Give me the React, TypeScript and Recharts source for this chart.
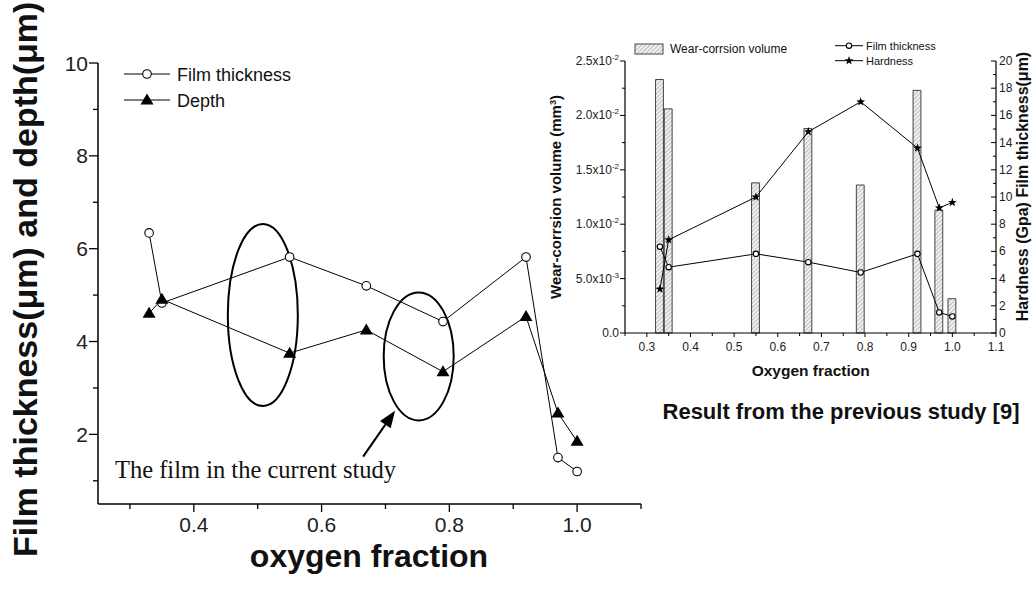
import React from "react";
import {
  ComposedChart,
  LineChart,
  Line,
  Bar,
  XAxis,
  YAxis,
  Legend,
  ReferenceDot,
  ReferenceLine,
} from "recharts";

// current study (main plot)
const oxygenFraction = [0.33, 0.35, 0.55, 0.67, 0.79, 0.92, 0.97, 1.0];
const filmThickness = [6.34, 4.83, 5.82, 5.2, 4.43, 5.82, 1.5, 1.2];
const depth = [4.61, 4.91, 3.75, 4.25, 3.35, 4.54, 2.46, 1.85];

// previous study [9] (inset)
const prevFilmThickness = [6.35, 4.84, 5.82, 5.21, 4.45, 5.82, 1.51, 1.22];
const hardness = [3.23, 6.85, 10.0, 14.8, 17.0, 13.6, 9.2, 9.6];
const wearVolume = [0.0233, 0.0206, 0.0138, 0.0188, 0.0136, 0.0223, 0.0113, 0.00315];

const mainXTicks = [0.3, 0.4, 0.5, 0.6, 0.7, 0.8, 0.9, 1.0, 1.1];
const mainYTicks = [1, 2, 3, 4, 5, 6, 7, 8, 9, 10];
const insetXTicks = [0.25, 0.3, 0.35, 0.4, 0.45, 0.5, 0.55, 0.6, 0.65, 0.7, 0.75, 0.8, 0.85, 0.9, 0.95, 1.0, 1.05, 1.1];
const insetLeftTicks = [0, 0.0025, 0.005, 0.0075, 0.01, 0.0125, 0.015, 0.0175, 0.02, 0.0225, 0.025];
const insetRightTicks = [0, 1, 2, 3, 4, 5, 6, 7, 8, 9, 10, 11, 12, 13, 14, 15, 16, 17, 18, 19, 20];

// annotation ellipses and arrow, in data units (main plot)
const ellipses = [
  { x: 0.508, y: 4.57, rx: 35, ry: 91 },
  { x: 0.752, y: 3.68, rx: 35, ry: 64 },
];
const arrowFrom = { x: 0.665, y: 1.52 };
const arrowTo = { x: 0.715, y: 2.51 };

const SANS = "'Liberation Sans', Arial, sans-serif";
const SERIF = "'Liberation Serif', 'Times New Roman', serif";

const mainData = oxygenFraction.map((x, i) => ({ x, film: filmThickness[i], depth: depth[i] }));
const insetData = oxygenFraction.map((x, i) => ({
  x,
  wear: wearVolume[i],
  film: prevFilmThickness[i],
  hardness: hardness[i],
}));

const OpenCircle = ({ cx, cy, r = 4.3 }: any) => (
  <circle cx={cx} cy={cy} r={r} fill="#fff" stroke="#000" strokeWidth={1.1} />
);
const Triangle = ({ cx, cy }: any) => (
  <polygon points={`${cx},${cy - 6.5} ${cx - 6.5},${cy + 4.5} ${cx + 6.5},${cy + 4.5}`} fill="#000" />
);
const starPoints = (cx: number, cy: number, R: number, r: number) => {
  const pts: string[] = [];
  for (let k = 0; k < 10; k++) {
    const rad = k % 2 === 0 ? R : r;
    const a = -Math.PI / 2 + (k * Math.PI) / 5;
    pts.push(`${cx + rad * Math.cos(a)},${cy + rad * Math.sin(a)}`);
  }
  return pts.join(" ");
};
const Star = ({ cx, cy }: any) => <polygon points={starPoints(cx, cy, 4.6, 1.9)} fill="#000" />;

// main axis ticks
const MainXTick = ({ x, y, payload }: any) => {
  const v = payload.value;
  const major = Math.round(v * 10) % 2 === 0;
  return (
    <g>
      <line x1={x} y1={y} x2={x} y2={y + (major ? 8 : 5)} stroke="#000" strokeWidth={1.3} />
      {major && (
        <text x={x} y={y + 28} textAnchor="middle" fontSize={21} fontFamily={SANS} fill="#222">
          {v.toFixed(1)}
        </text>
      )}
    </g>
  );
};
const MainYTick = ({ x, y, payload }: any) => {
  const v = payload.value;
  const major = v % 2 === 0;
  return (
    <g>
      <line x1={x} y1={y} x2={x - (major ? 9 : 5)} y2={y} stroke="#000" strokeWidth={1.3} />
      {major && (
        <text x={x - 10} y={y + 7.5} textAnchor="end" fontSize={21} fontFamily={SANS} fill="#222">
          {v}
        </text>
      )}
    </g>
  );
};

// inset axis ticks
const InsetXTick = ({ x, y, payload }: any) => {
  const v = payload.value;
  const major = Math.round(v * 100) % 10 === 0;
  return (
    <g>
      <line x1={x} y1={y} x2={x} y2={y + (major ? 4 : 3)} stroke="#000" strokeWidth={1} />
      {major && (
        <text x={x} y={y + 18} textAnchor="middle" fontSize={12} fontFamily={SANS} fill="#222">
          {v.toFixed(1)}
        </text>
      )}
    </g>
  );
};
const InsetLeftTick = ({ x, y, payload }: any) => {
  const v = payload.value;
  const major = Math.round(v * 10000) % 50 === 0;
  let label: any = null;
  if (major) {
    if (v === 0) {
      label = "0.0";
    } else {
      const exp = Math.floor(Math.log10(v) + 1e-9);
      const mant = (v / Math.pow(10, exp)).toFixed(1);
      label = (
        <>
          <tspan>{mant}x10</tspan>
          <tspan dy={-5} fontSize={8}>{exp}</tspan>
        </>
      );
    }
  }
  return (
    <g>
      <line x1={x} y1={y} x2={x - (major ? 5 : 3)} y2={y} stroke="#000" strokeWidth={1} />
      {label && (
        <text x={x - 6} y={y + 4} textAnchor="end" fontSize={12} fontFamily={SANS} fill="#222">
          {label}
        </text>
      )}
    </g>
  );
};
const InsetRightTick = ({ x, y, payload }: any) => {
  const v = payload.value;
  const major = v % 2 === 0;
  return (
    <g>
      <line x1={x} y1={y} x2={x - (major ? 5 : 3)} y2={y} stroke="#000" strokeWidth={1} />
      {major && (
        <text x={x + 3} y={y + 4} textAnchor="start" fontSize={12} fontFamily={SANS} fill="#222">
          {v}
        </text>
      )}
    </g>
  );
};

const MainLegend = () => (
  <svg width={330} height={120}>
    <line x1={124} y1={74} x2={170} y2={74} stroke="#000" strokeWidth={1} />
    <OpenCircle cx={147} cy={74} />
    <text x={177} y={80.5} fontSize={18} fontFamily={SANS} fill="#111">
      Film thickness
    </text>
    <line x1={124} y1={100} x2={170} y2={100} stroke="#000" strokeWidth={1} />
    <Triangle cx={147} cy={100} />
    <text x={177} y={106.5} fontSize={18} fontFamily={SANS} fill="#111">
      Depth
    </text>
  </svg>
);

const InsetLegend = () => (
  <svg width={460} height={40}>
    <rect x={115} y={14} width={28} height={10} fill="url(#hatch)" stroke="#444" strokeWidth={1} />
    <text x={150} y={22.6} fontSize={12} fontFamily={SANS} fill="#111">
      Wear-corrsion volume
    </text>
    <line x1={315} y1={15.7} x2={343} y2={15.7} stroke="#000" strokeWidth={1} />
    <OpenCircle cx={329} cy={15.7} r={2.7} />
    <text x={346} y={19.7} fontSize={11} fontFamily={SANS} fill="#111">
      Film thickness
    </text>
    <line x1={315} y1={30.7} x2={343} y2={30.7} stroke="#000" strokeWidth={1} />
    <Star cx={329} cy={30.7} />
    <text x={346} y={34.7} fontSize={11} fontFamily={SANS} fill="#111">
      Hardness
    </text>
  </svg>
);

const ArrowShape = (p: any) => {
  const { x1, y1, x2, y2 } = p;
  const ang = Math.atan2(y2 - y1, x2 - x1);
  const len = 17;
  const half = 6.5;
  const bx = x2 - len * Math.cos(ang);
  const by = y2 - len * Math.sin(ang);
  const nx = -Math.sin(ang);
  const ny = Math.cos(ang);
  return (
    <g>
      <line x1={x1} y1={y1} x2={bx} y2={by} stroke="#000" strokeWidth={2} />
      <polygon
        points={`${x2},${y2} ${bx + half * nx},${by + half * ny} ${bx - half * nx},${by - half * ny}`}
        fill="#000"
      />
    </g>
  );
};

export default function App() {
  return (
    <div style={{ position: "absolute", left: 0, top: 0, width: 1036, height: 591, background: "#fff", overflow: "hidden" }}>
      <div style={{ position: "absolute", left: 0, top: 0 }}>
        <LineChart width={660} height={591} data={mainData} margin={{ top: 63, right: 19, bottom: 57, left: 58 }}>
          <XAxis
            dataKey="x"
            type="number"
            domain={[0.25, 1.1]}
            ticks={mainXTicks}
            interval={0}
            tickSize={0}
            tickMargin={0}
            height={30}
            stroke="#000"
            axisLine={{ stroke: "#000", strokeWidth: 1.5 }}
            tick={<MainXTick />}
          />
          <YAxis
            type="number"
            domain={[0.5, 10]}
            ticks={mainYTicks}
            interval={0}
            tickSize={0}
            tickMargin={0}
            width={40}
            axisLine={{ stroke: "#000", strokeWidth: 1.5 }}
            tick={<MainYTick />}
          />
          <Legend layout="vertical" align="center" verticalAlign="middle" wrapperStyle={{ top: 0, left: 0, width: 330, height: 120 }} content={MainLegend} />
          <Line
            dataKey="film"
            stroke="#000"
            strokeWidth={1}
            isAnimationActive={false}
            dot={(p: any) => <OpenCircle key={p.index} cx={p.cx} cy={p.cy} />}
          />
          <Line
            dataKey="depth"
            stroke="#000"
            strokeWidth={1}
            isAnimationActive={false}
            dot={(p: any) => <Triangle key={p.index} cx={p.cx} cy={p.cy} />}
          />
          {ellipses.map((e, i) => (
            <ReferenceDot
              key={i}
              x={e.x}
              y={e.y}
              r={1}
              shape={(p: any) => (
                <ellipse cx={p.cx} cy={p.cy} rx={e.rx} ry={e.ry} fill="none" stroke="#000" strokeWidth={2} />
              )}
            />
          ))}
          <ReferenceLine segment={[arrowFrom, arrowTo]} shape={ArrowShape} />
        </LineChart>
      </div>

      <div style={{ position: "absolute", left: 520, top: 30 }}>
        <ComposedChart width={516} height={350} data={insetData} margin={{ top: 31, right: 10, bottom: 17, left: 45 }}>
          <defs>
            <pattern id="hatch" width={3} height={3} patternUnits="userSpaceOnUse" patternTransform="rotate(45)">
              <rect width={3} height={3} fill="#f2f2f2" />
              <line x1={0} y1={0} x2={0} y2={3} stroke="#9a9a9a" strokeWidth={1.2} />
            </pattern>
          </defs>
          <XAxis
            dataKey="x"
            type="number"
            domain={[0.25, 1.1]}
            ticks={insetXTicks}
            interval={0}
            tickSize={0}
            tickMargin={0}
            height={30}
            axisLine={{ stroke: "#000", strokeWidth: 1.2 }}
            tick={<InsetXTick />}
          />
          <YAxis
            yAxisId="left"
            type="number"
            domain={[0, 0.025]}
            ticks={insetLeftTicks}
            interval={0}
            tickSize={0}
            tickMargin={0}
            width={60}
            axisLine={{ stroke: "#000", strokeWidth: 1.2 }}
            tick={<InsetLeftTick />}
          />
          <YAxis
            yAxisId="right"
            orientation="right"
            type="number"
            domain={[0, 20]}
            ticks={insetRightTicks}
            interval={0}
            tickSize={0}
            tickMargin={0}
            width={30}
            axisLine={{ stroke: "#000", strokeWidth: 1.2 }}
            tick={<InsetRightTick />}
          />
          <Legend layout="vertical" align="center" verticalAlign="middle" wrapperStyle={{ top: 0, left: 0, width: 460, height: 40 }} content={InsetLegend} />
          <Bar yAxisId="left" dataKey="wear" barSize={9} fill="url(#hatch)" stroke="#444" strokeWidth={1} isAnimationActive={false} />
          <Line
            yAxisId="right"
            dataKey="hardness"
            stroke="#000"
            strokeWidth={1}
            isAnimationActive={false}
            dot={(p: any) => <Star key={p.index} cx={p.cx} cy={p.cy} />}
          />
          <Line
            yAxisId="right"
            dataKey="film"
            stroke="#000"
            strokeWidth={1}
            isAnimationActive={false}
            dot={(p: any) => <OpenCircle key={p.index} cx={p.cx} cy={p.cy} r={2.7} />}
          />
        </ComposedChart>
      </div>

      <svg width={1036} height={591} style={{ position: "absolute", left: 0, top: 0, pointerEvents: "none" }}>
        <text transform="translate(37,557) rotate(-90)" fontSize={34} fontWeight="bold" fontFamily={SANS} fill="#111">
          Film thickness(μm) and depth(μm)
        </text>
        <text x={369} y={567} textAnchor="middle" fontSize={32} fontWeight="bold" fontFamily={SANS} fill="#111">
          oxygen fraction
        </text>
        <text x={115} y={478} fontSize={24.5} fontFamily={SERIF} fill="#111">
          The film in the current study
        </text>
        <text transform="translate(561,197) rotate(-90)" textAnchor="middle" fontSize={15} fontWeight="bold" fontFamily={SANS} fill="#111">
          Wear-corrsion volume (mm<tspan dy={-5} fontSize={9}>3</tspan>
          <tspan dy={5}>)</tspan>
        </text>
        <text transform="translate(1027.5,186.5) rotate(-90)" textAnchor="middle" fontSize={16} fontWeight="bold" fontFamily={SANS} fill="#111">
          Hardness (Gpa) Film thickness(μm)
        </text>
        <text x={810.7} y={376} textAnchor="middle" fontSize={15.5} fontWeight="bold" fontFamily={SANS} fill="#111">
          Oxygen fraction
        </text>
        <text x={841} y={419} textAnchor="middle" fontSize={22} fontWeight="bold" fontFamily={SANS} fill="#111">
          Result from the previous study [9]
        </text>
      </svg>
    </div>
  );
}
